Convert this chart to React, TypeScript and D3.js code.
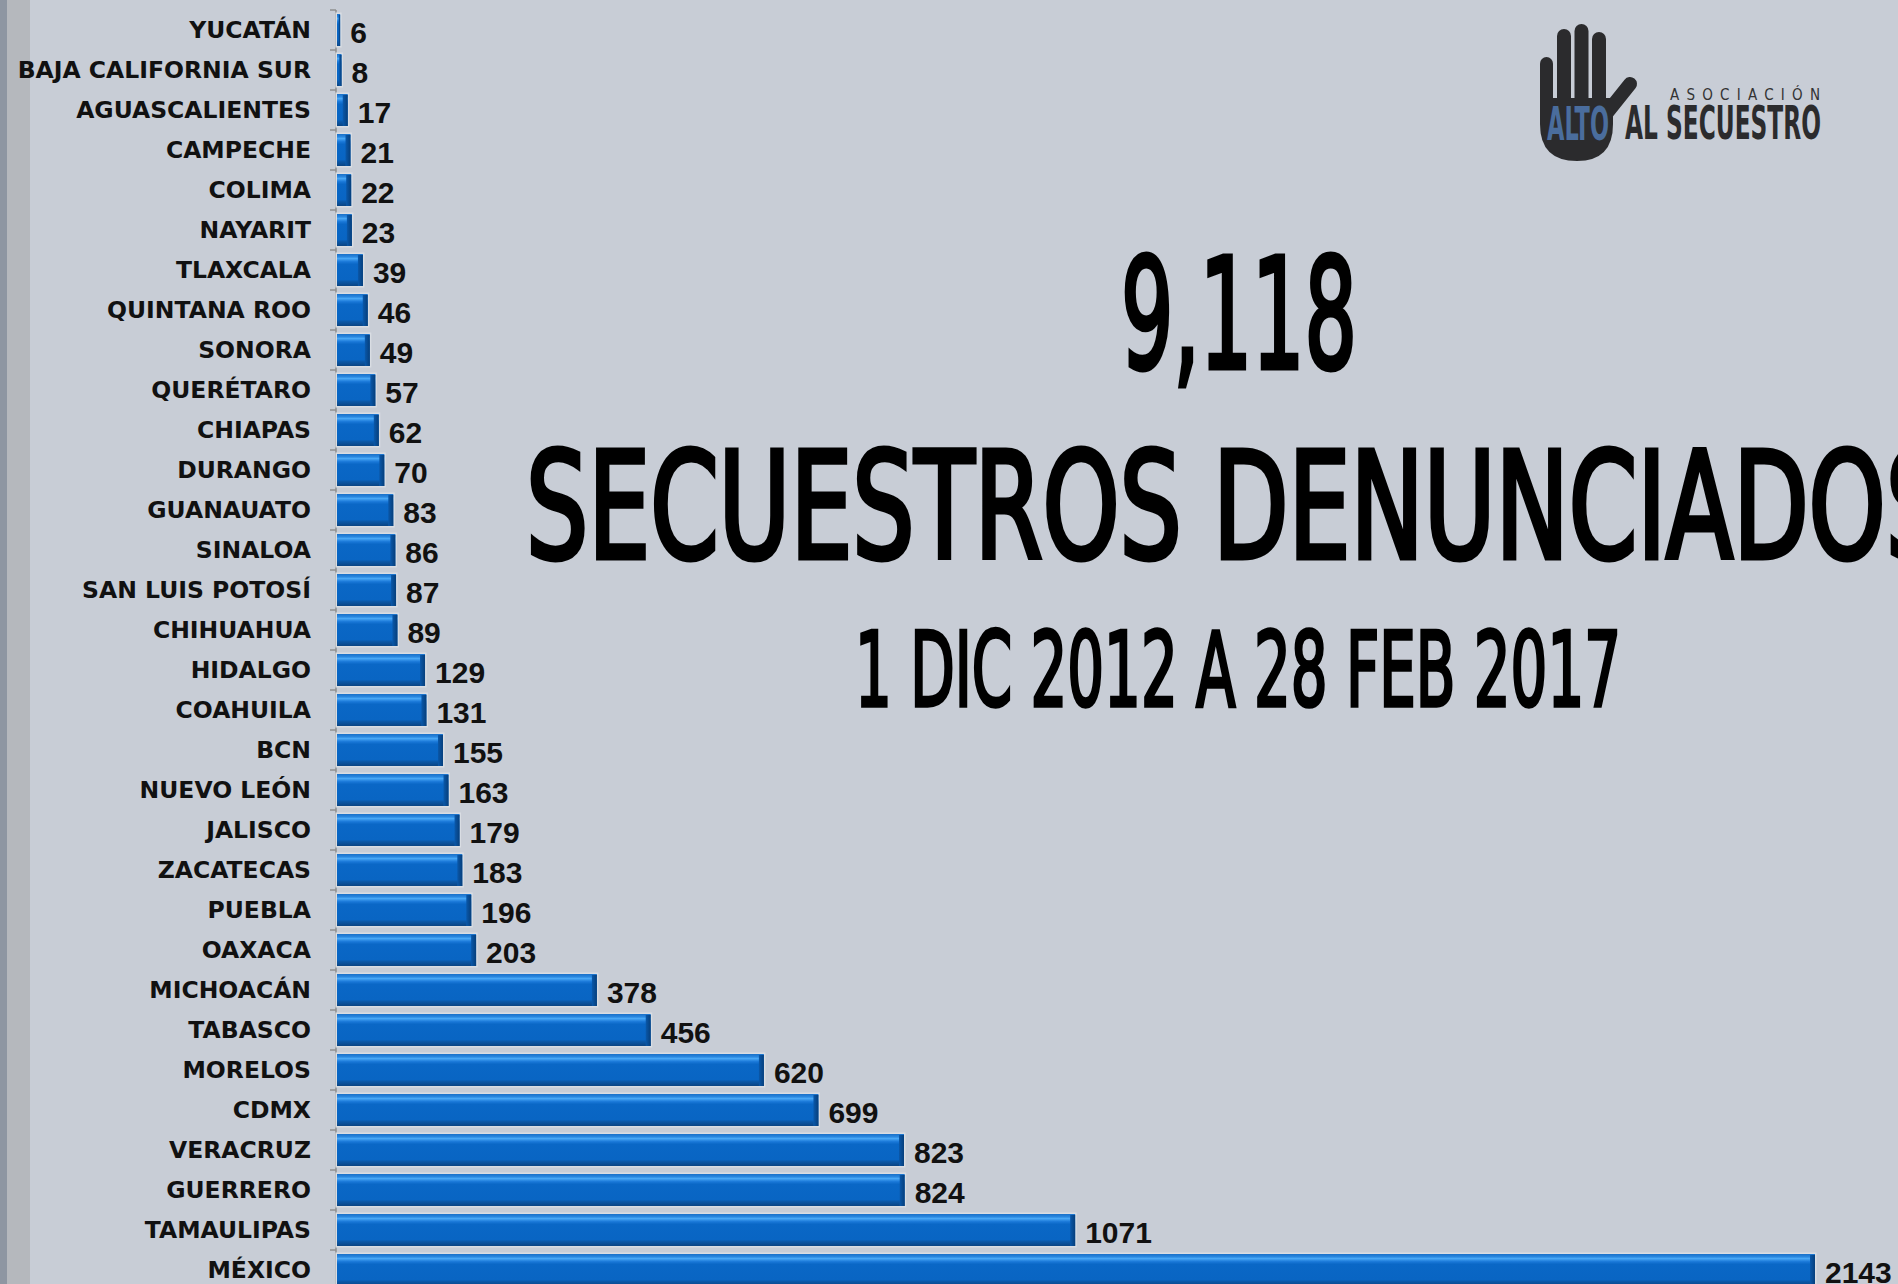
import React, { useEffect } from "react";
import * as d3 from "d3";

const categories: string[] = [
  "YUCATÁN", "BAJA CALIFORNIA SUR", "AGUASCALIENTES", "CAMPECHE", "COLIMA", "NAYARIT",
  "TLAXCALA", "QUINTANA ROO", "SONORA", "QUERÉTARO", "CHIAPAS", "DURANGO", "GUANAUATO",
  "SINALOA", "SAN LUIS POTOSÍ", "CHIHUAHUA", "HIDALGO", "COAHUILA", "BCN", "NUEVO LEÓN",
  "JALISCO", "ZACATECAS", "PUEBLA", "OAXACA", "MICHOACÁN", "TABASCO", "MORELOS", "CDMX",
  "VERACRUZ", "GUERRERO", "TAMAULIPAS", "MÉXICO",
];
const values: number[] = [
  6, 8, 17, 21, 22, 23, 39, 46, 49, 57, 62, 70, 83, 86, 87, 89, 129, 131, 155, 163, 179,
  183, 196, 203, 378, 456, 620, 699, 823, 824, 1071, 2143,
];
const totalLabel = "9,118";
const titleLabel = "SECUESTROS DENUNCIADOS";
const periodLabel = "1 DIC 2012 A 28 FEB 2017";

const W = 1898;
const H = 1284;

export default function App() {
  useEffect(() => {
    document.body.style.margin = "0";
    document.body.style.overflow = "hidden";
  }, []);

  const data = categories.map((c, i) => ({ c, v: values[i] }));
  const y = d3
    .scaleBand<string>()
    .domain(categories)
    .range([10, 10 + categories.length * 40])
    .paddingInner(0.2)
    .paddingOuter(0.1);
  const x = d3.scaleLinear().domain([0, d3.max(values) as number]).range([336, 1815]);
  const bw = y.bandwidth();
  const step = y.step();
  const boundaries = d3.range(categories.length + 1).map((i) => 10 + i * step);
  const narrow = "'Liberation Sans Narrow', 'DejaVu Sans Condensed', 'Liberation Sans', sans-serif";

  return (
    <svg
      width={W}
      height={H}
      style={{ display: "block", position: "absolute", left: 0, top: 0 }}
    >
      <defs>
        <linearGradient id="barGrad" x1="0" y1="0" x2="0" y2="1">
          <stop offset="0%" stopColor="#1a70c9" />
          <stop offset="9%" stopColor="#2a88e0" />
          <stop offset="14%" stopColor="#4aa8f6" />
          <stop offset="24%" stopColor="#1a78d8" />
          <stop offset="32%" stopColor="#0a67c6" />
          <stop offset="80%" stopColor="#0965c3" />
          <stop offset="86%" stopColor="#0b58a8" />
          <stop offset="100%" stopColor="#0a4483" />
        </linearGradient>
        <linearGradient id="endGrad" x1="0" y1="0" x2="1" y2="0">
          <stop offset="0%" stopColor="#0a58aa" />
          <stop offset="100%" stopColor="#063f7c" />
        </linearGradient>
      </defs>
      <rect x={0} y={0} width={W} height={H} fill="#c8cdd6" />
      <rect x={0} y={0} width={30} height={H} fill="#b5b8bd" />
      <rect x={0} y={0} width={7} height={H} fill="#8e96a2" />

      {/* axis */}
      <line x1={336} x2={336} y1={10} y2={H} stroke="#8f8f8f" strokeWidth={1.5} />
      {boundaries.map((b, i) => (
        <line key={i} x1={330} x2={336} y1={b} y2={b} stroke="#8f8f8f" strokeWidth={1.5} />
      ))}

      {/* bars */}
      {data.map((d) => {
        const y0 = y(d.c) as number;
        const x1 = x(d.v);
        const w = Math.max(x1 - 337, 2);
        const bev = Math.min(5, w * 0.5);
        return (
          <g key={d.c}>
            <rect x={335.5} y={y0 - 1.5} width={w + 3} height={bw + 3} fill="#d9dde3" />
            <rect x={337} y={y0} width={w} height={bw} fill="url(#barGrad)" />
            <rect x={337 + w - bev} y={y0 + 1} width={bev} height={bw - 1} fill="url(#endGrad)" />
          </g>
        );
      })}

      {/* category labels */}
      {data.map((d) => (
        <text
          key={d.c}
          x={311}
          y={(y(d.c) as number) + bw / 2}
          dy="0.36em"
          textAnchor="end"
          fontFamily="'DejaVu Sans', 'Open Sans', sans-serif"
          fontWeight={700}
          fontSize={23.5}
          fill="#111"
        >
          {d.c}
        </text>
      ))}

      {/* value labels */}
      {data.map((d) => (
        <text
          key={d.c}
          x={x(d.v) + 10}
          y={(y(d.c) as number) + bw / 2 + 2}
          dy="0.36em"
          fontFamily="'Liberation Sans', Arial, sans-serif"
          fontWeight={700}
          fontSize={30}
          fill="#111"
        >
          {d.v}
        </text>
      ))}

      {/* titles */}
      <text x={1121} y={368} fontFamily={narrow} fontWeight={400} fontSize={154}
        textLength={236} lengthAdjust="spacingAndGlyphs" fill="#000" stroke="#000" strokeWidth={5}>
        {totalLabel}
      </text>
      <text x={526} y={558} fontFamily={narrow} fontWeight={400} fontSize={148}
        textLength={1422} lengthAdjust="spacingAndGlyphs" fill="#000" stroke="#000" strokeWidth={5}>
        {titleLabel}
      </text>
      <text x={855} y={706} fontFamily={narrow} fontWeight={400} fontSize={104}
        textLength={766} lengthAdjust="spacingAndGlyphs" fill="#000" stroke="#000" strokeWidth={3.5}>
        {periodLabel}
      </text>

      {/* logo */}
      <g fill="#2b2b2d">
        <rect x={1540} y={57} width={13} height={62} rx={6.5} />
        <rect x={1557} y={29} width={14} height={90} rx={7} />
        <rect x={1574.5} y={24} width={14} height={95} rx={7} />
        <rect x={1592} y={32} width={14} height={87} rx={7} />
        <path d="M1540,98 H1613 V124 Q1613,161 1577,161 Q1540,161 1540,124 Z" />
        <line x1={1606} y1={114} x2={1630} y2={84} stroke="#2b2b2d" strokeWidth={14} strokeLinecap="round" />
      </g>
      <text x={1547} y={140} fontFamily={narrow} fontWeight={700} fontSize={46}
        textLength={62} lengthAdjust="spacingAndGlyphs" fill="#4a6d9d">ALTO</text>
      <text x={1625} y={139} fontFamily={narrow} fontWeight={700} fontSize={46}
        textLength={196} lengthAdjust="spacingAndGlyphs" fill="#2b2b2d">AL SECUESTRO</text>
      <text x={1670} y={100} fontFamily={narrow} fontSize={15}
        textLength={150} lengthAdjust="spacing" fill="#333">ASOCIACIÓN</text>
    </svg>
  );
}
